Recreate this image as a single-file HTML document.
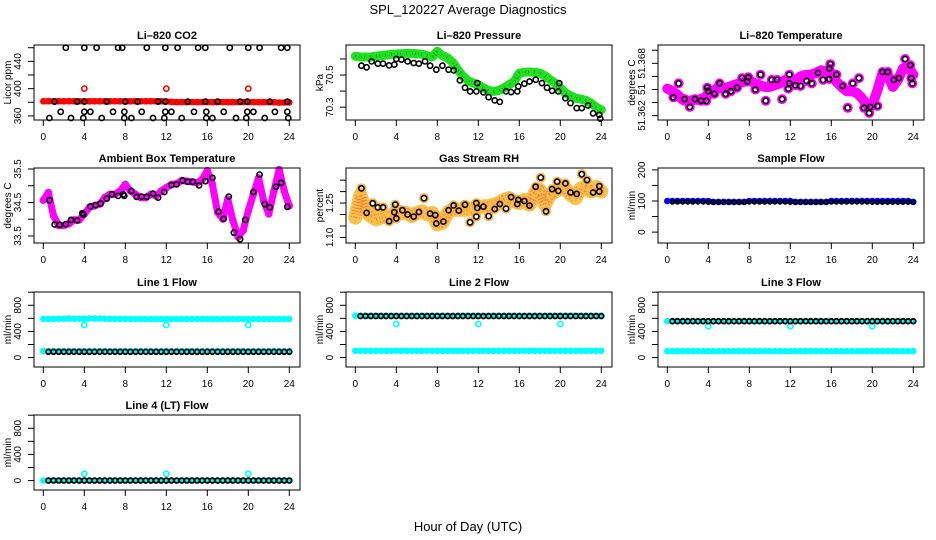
<!DOCTYPE html>
<html><head><meta charset="utf-8"><style>
html,body{margin:0;padding:0;background:#fff;}
svg{display:block;font-family:"Liberation Sans",sans-serif;}
</style></head><body>
<svg id="chart" width="936" height="540" viewBox="0 0 936 540" xmlns="http://www.w3.org/2000/svg">
<rect width="936" height="540" fill="#fff"/>
<text x="468" y="14" text-anchor="middle" font-size="13">SPL_120227  Average Diagnostics</text>
<text x="468" y="531" text-anchor="middle" font-size="13">Hour of Day (UTC)</text>
<g id="plots"></g>
</svg>
<script>
const hours=[0,0.5,1,1.5,2,2.5,3,3.5,4,4.5,5,5.5,6,6.5,7,7.5,8,8.5,9,9.5,10,10.5,11,11.5,12,12.5,13,13.5,14,14.5,15,15.5,16,16.5,17,17.5,18,18.5,19,19.5,20,20.5,21,21.5,22,22.5,23,23.5,24];
const xTicks=[0,4,8,12,16,20,24];
const spikeHours=[4,12,20];

// CO2
const co2Band=[381.5,381.6,381.5,381.4,381.5,381.6,381.5,381.4,381.5,381.5,381.4,381.5,381.5,381.4,381.5,381.5,381.4,381.4,381.5,381.4,381.4,381.5,381.4,381.4,381.3,380.5,380.2,380.2,380.3,380.2,380.2,380.3,380.2,380.3,380.2,380.3,380.2,380.2,380.3,380.2,380.2,380.2,380.1,380.2,380.1,380.0,379.5,379.6,379.8];
const co2Spikes=[400,400,400];
const co2BlackT=[2.2,4,5.2,7.3,7.7,10.1,11.9,13.1,15.1,15.8,18.2,20,21.1,23.2,23.8, 1.1,3.3,4,6.2,8,9.2,11.2,11.9,14.1,15.8,17,19.2,19.9,22.1,23.8, 1.7,4,4.6,6.8,7.9,9.6,11.9,12.5,14.7,15.9,17.6,19.9,20.5,22.6,23.8, 0.6,2.7,3.9,5.7,7.9,8.6,10.7,11.8,13.5,15.9,16.5,18.8,19.8,21.6,23.9];
const co2BlackV=[460,460,460,460,460,460,460,460,460,460,460,460,460,460,460, 381,381,381,381,381,381,381,381,381,381,381,381,381,381,381, 366,366,366,366,366,366,366,366,366,366,366,366,366,366,366, 357,357,357,357,357,357,357,357,357,357,357,357,357,357,357];

// Pressure
const presBand=[70.617,70.612,70.612,70.612,70.617,70.621,70.625,70.629,70.631,70.633,70.635,70.635,70.633,70.629,70.621,70.612,70.648,70.621,70.606,70.579,70.533,70.492,70.465,70.450,70.440,70.419,70.404,70.398,70.404,70.419,70.440,70.460,70.512,70.517,70.519,70.517,70.512,70.496,70.471,70.450,70.419,70.388,70.371,70.356,70.350,70.342,70.325,70.300,70.283];
const presBlackT=[0.6,1.1,1.6,2.2,2.7,3.3,3.8,4,4.5,5.1,5.7,6.2,6.8,7.3,7.9,8.5,9.1,9.6,10.2,10.7,11.2,11.8,11.9,12.5,13,13.6,14.1,14.7,15.2,15.8,15.9,16.5,17,17.6,18.2,18.7,19.2,19.8,19.9,20.5,21,21.6,22.1,22.7,23.2,23.8,23.9];
const presBlackV=[70.558,70.548,70.585,70.571,70.571,70.560,70.565,70.600,70.596,70.585,70.575,70.571,70.585,70.558,70.533,70.558,70.533,70.529,70.467,70.421,70.398,70.398,70.450,70.392,70.362,70.342,70.333,70.398,70.394,70.398,70.429,70.446,70.460,70.471,70.450,70.421,70.402,70.398,70.450,70.356,70.325,70.294,70.294,70.310,70.262,70.252,70.229];

// Li-820 temperature
const tempBand=[51.3651,51.3648,51.3644,51.3638,51.3636,51.3638,51.3638,51.3640,51.3644,51.3648,51.3653,51.3651,51.3653,51.3655,51.3657,51.3659,51.3661,51.3657,51.3655,51.3653,51.3653,51.3655,51.3657,51.3661,51.3659,51.3661,51.3665,51.3667,51.3667,51.3669,51.3672,51.3670,51.3669,51.3659,51.3653,51.3648,51.3648,51.3646,51.3640,51.3632,51.3632,51.3649,51.3669,51.3667,51.3653,51.3661,51.3674,51.3676,51.3667];
const tempBlackT=[0.6,1.1,1.7,2.2,2.7,3.3,3.8,3.9,4,4.6,5.1,5.7,6.2,6.8,7.3,7.8,7.9,8.6,9.1,9.6,10.2,10.7,11.2,11.8,11.9,11.9,12.5,13,13.6,14.1,14.7,15.2,15.8,15.8,15.9,16.5,17.1,17.6,18.1,18.7,19.2,19.7,19.8,20.5,21,21.5,22.1,22.6,23.2,23.7,23.8,23.9];
const tempBlackV=[51.3641,51.3657,51.3639,51.3630,51.3639,51.3637,51.3637,51.3652,51.3648,51.3645,51.3657,51.3645,51.3648,51.3652,51.3663,51.3659,51.3664,51.3650,51.3667,51.3637,51.3661,51.3661,51.3639,51.3651,51.3667,51.3657,51.3655,51.3654,51.3660,51.3657,51.3669,51.3661,51.3662,51.3674,51.3679,51.3667,51.3654,51.3629,51.3657,51.3663,51.3629,51.3623,51.3630,51.3631,51.3670,51.3670,51.3661,51.3663,51.3685,51.3678,51.3663,51.3657];

// Ambient box temperature
const ambBand=[34.568,34.794,34.108,33.814,33.814,33.863,33.980,33.980,34.157,34.353,34.402,34.451,34.647,34.745,34.745,34.843,35.039,34.843,34.745,34.647,34.647,34.745,34.696,34.843,34.941,35.039,35.058,35.156,35.137,35.117,35.088,35.186,35.450,35.039,34.206,34.010,34.598,33.961,33.471,33.667,34.255,34.745,35.235,34.549,34.157,34.843,35.480,34.843,34.402];
const ambBlackT=[0.6,1.1,1.6,2.2,2.7,3.3,3.8,3.9,4.6,5.1,5.6,6.2,6.7,7.3,7.8,7.9,8.6,9.1,9.6,10.1,10.7,11.2,11.8,12.5,13,13.6,14.1,14.6,15.2,15.8,16.5,17.1,17.6,18.1,18.6,19.2,19.7,20.5,21.1,21.6,22.1,22.7,23.2,23.8];
const ambBlackV=[34.568,33.843,33.833,33.853,33.980,33.961,34.176,34.137,34.382,34.421,34.470,34.617,34.745,34.696,34.745,34.696,34.843,34.666,34.676,34.666,34.764,34.647,34.813,35.019,35.039,35.156,35.117,35.117,35.009,35.137,35.235,34.225,34.010,34.676,33.598,33.402,33.980,34.813,35.333,34.451,34.353,34.970,35.088,34.372];

// Gas stream RH
const rhBand=[1.186,1.286,1.214,1.193,1.179,1.186,1.193,1.193,1.214,1.207,1.207,1.193,1.207,1.214,1.200,1.207,1.157,1.164,1.207,1.221,1.221,1.221,1.221,1.229,1.229,1.236,1.236,1.243,1.250,1.264,1.271,1.257,1.250,1.264,1.243,1.293,1.307,1.243,1.286,1.300,1.314,1.314,1.286,1.271,1.314,1.321,1.300,1.321,1.300];
const rhBlackT=[0.6,1.1,1.7,2.2,2.7,3.3,3.8,3.9,4,4.6,5.1,5.7,6.2,6.7,7.3,7.8,7.9,8.6,9.1,9.6,10.1,10.7,11.2,11.8,11.8,11.9,12.5,13,13.6,14.1,14.7,15.2,15.8,15.9,16.5,17,17.6,18.1,18.6,19.2,19.7,19.8,20.5,21,21.6,22.1,22.6,23.2,23.8,23.8];
const rhBlackV=[1.314,1.207,1.249,1.231,1.231,1.171,1.210,1.243,1.183,1.219,1.200,1.191,1.211,1.271,1.204,1.197,1.161,1.169,1.219,1.240,1.217,1.243,1.166,1.191,1.250,1.229,1.234,1.193,1.224,1.246,1.226,1.276,1.246,1.264,1.259,1.239,1.321,1.361,1.214,1.311,1.343,1.303,1.336,1.296,1.290,1.376,1.350,1.296,1.300,1.324];

// Flows
const sampleBlue=[100,100,100,100,100,100,100,100,100,97,97,97,97,97,97,97,100,100,100,100,100,100,100,100,100,97,97,97,97,97,97,97,100,100,100,100,100,100,100,100,100,100,100,100,100,100,100,100,97];
const sampleBlack=[97,97,97,97,97,97,97,97,96,96,96,96,96,96,96,96,97,97,97,97,97,97,97,97,96,96,96,96,96,96,96,96,97,97,97,97,97,97,97,97,96,96,96,96,96,96,96,96,96];
const line1Upper=[592,590,592,593,594,596,595,595,594,596,598,596,594,592,592,590,592,590,590,590,590,590,590,590,590,590,590,590,590,590,590,590,590,590,590,590,590,590,590,590,590,590,590,590,590,590,590,590,590];
const line1Lower=[99,99,99,99,99,99,99,99,99,99,99,99,99,99,99,99,99,99,99,99,99,99,99,99,99,99,99,99,99,99,99,99,99,99,99,99,99,99,99,99,99,99,99,99,99,99,99,99,99];
const line1Black=[88,88,88,88,88,88,88,88,88,88,88,88,88,88,88,88,88,88,88,88,88,88,88,88,88,88,88,88,88,88,88,88,88,88,88,88,88,88,88,88,88,88,88,88,88,88,88,88,88];
const line1Spikes=[499,499,499];
const line2Upper=[640,640,640,640,640,640,640,640,640,640,640,640,640,640,640,640,640,640,640,640,640,640,640,640,640,640,640,640,640,640,640,640,640,640,640,640,640,640,640,640,640,640,640,640,640,640,640,640,640];
const line2Lower=[104,104,104,104,104,104,104,104,104,104,104,104,104,104,104,104,104,104,104,104,104,104,104,104,104,104,104,104,104,104,104,104,104,104,104,104,104,104,104,104,104,104,104,104,104,104,104,104,104];
const line2Black=[634,634,634,634,634,634,634,634,634,634,634,634,634,634,634,634,634,634,634,634,634,634,634,634,634,634,634,634,634,634,634,634,634,634,634,634,634,634,634,634,634,634,634,634,634,634,634,634,634];
const line2Spikes=[514,514,514];
const line3Upper=[556,556,556,556,556,556,556,556,556,556,556,556,556,556,556,556,556,556,556,556,556,556,556,556,556,556,556,556,556,556,556,556,556,556,556,556,556,556,556,556,556,556,556,556,556,556,556,556,556];
const line3Lower=[98,98,98,98,98,98,98,98,98,98,98,98,98,98,98,98,98,98,98,98,98,98,98,98,98,98,98,98,98,98,98,98,98,98,98,98,98,98,98,98,98,98,98,98,98,98,98,98,98];
const line3Black=[556,556,556,556,556,556,556,556,556,556,556,556,556,556,556,556,556,556,556,556,556,556,556,556,556,556,556,556,556,556,556,556,556,556,556,556,556,556,556,556,556,556,556,556,556,556,556,556,556];
const line3Spikes=[480,480,480];
const line4Cyan=[2,2,2,2,2,2,2,2,2,2,2,2,2,2,2,2,2,2,2,2,2,2,2,2,2,2,2,2,2,2,2,2,2,2,2,2,2,2,2,2,2,2,2,2,2,2,2,2,2];
const line4Black=[2,2,2,2,2,2,2,2,2,2,2,2,2,2,2,2,2,2,2,2,2,2,2,2,2,2,2,2,2,2,2,2,2,2,2,2,2,2,2,2,2,2,2,2,2,2,2,2,2];
const line4Spikes=[103,103,103];

const NS='http://www.w3.org/2000/svg';
const root=document.getElementById('plots');
function mk(tag,attrs,parent){const e=document.createElementNS(NS,tag);for(const k in attrs)e.setAttribute(k,attrs[k]);(parent||root).appendChild(e);return e;}

const BOXW=266,BOXH=75;
const rowTops=[45,168,292,415];
const flowTicks=[0,200,400,600,800,1000];
const flowLabels=['0','','400','','800',''];

function panel(cfg){
  const left=34+cfg.col*312, top=rowTops[cfg.row];
  const g=mk('g',{});
  
  
  const xs=t=>left+9.3+t*10.25;
  const ys=v=>top+(cfg.ymax-v)/(cfg.ymax-cfg.ymin)*BOXH;
  const tt=mk('text',{x:left+BOXW/2,y:top-6,'text-anchor':'middle','font-size':11,'font-weight':'bold'},g);
  tt.textContent=cfg.title;
  
  
  const layers=mk('g',{},g);
  
  
  cfg.layers.forEach(L=>{
    const lg=mk('g',{},layers);
    
    
    if(L.opacity) lg.setAttribute('opacity',L.opacity);
    if(L.band){
      const pts=L.t.map((t,i)=>xs(t).toFixed(1)+','+ys(L.v[i]).toFixed(1)).join(' ');
      const pl=mk('polyline',{points:pts,fill:'none',stroke:L.color,'stroke-width':L.band,'stroke-linejoin':'round','stroke-linecap':'round'},lg);
      
      
      if(L.dots){
        const pl2=mk('polyline',{points:pts,fill:'none',stroke:L.dots,'stroke-width':Math.max(1,L.band-4),'stroke-dasharray':'1 2','stroke-linejoin':'round','opacity':0.6},lg);
        
        
      }
    }
    if(L.circles!==false){
      L.t.forEach((t,i)=>{
        const c=mk('circle',{cx:xs(t).toFixed(1),cy:ys(L.v[i]).toFixed(1),r:L.r||2.6,fill:'none',stroke:L.color,'stroke-width':L.sw||1.6},lg);
        
        
      });
    }
  });
  const b=mk('rect',{x:left,y:top,width:BOXW,height:BOXH,fill:'none',stroke:'#000','stroke-width':1},g);
  
  
  const xa=mk('g',{},g);
  
  
  mk('line',{x1:xs(0),x2:xs(24),y1:top+BOXH,y2:top+BOXH,stroke:'#000'},xa);
  xTicks.forEach(t=>{
    mk('line',{x1:xs(t),x2:xs(t),y1:top+BOXH,y2:top+BOXH+6,stroke:'#000'},xa);
    const tx=mk('text',{x:xs(t),y:top+BOXH+20,'text-anchor':'middle','font-size':10},xa);
    tx.textContent=String(t);
    
    
  });
  const ya=mk('g',{},g);
  
  
  const tk=cfg.ticks;
  mk('line',{x1:left,x2:left,y1:ys(tk[0]),y2:ys(tk[tk.length-1]),stroke:'#000'},ya);
  tk.forEach((v,i)=>{
    const y=ys(v);
    mk('line',{x1:left-6,x2:left,y1:y,y2:y,stroke:'#000'},ya);
    if(cfg.labels[i]){
      const lx=left-13;
      const tx=mk('text',{x:lx,y:y,'text-anchor':'middle','font-size':10,transform:`rotate(-90 ${lx} ${y})`},ya);
      tx.textContent=cfg.labels[i];
      
      
    }
  });
  const yx=left-23, yy=top+BOXH/2;
  const yt=mk('text',{x:yx,y:yy,'text-anchor':'middle','font-size':10,transform:`rotate(-90 ${yx} ${yy})`},g);
  yt.textContent=cfg.ylab;
  
  
}

const h1=hours.slice(1);
panel({name:'co2-panel',col:0,row:0,title:'Li–820 CO2',ylab:'Licor ppm',ymin:354,ymax:464,
  ticks:[360,380,400,420,440,460],labels:['360','','400','','440',''],
  layers:[
    {name:'co2-red-band',t:hours,v:co2Band,color:'#ff0000',band:6,r:2.5},
    {name:'co2-red-spikes',t:spikeHours,v:co2Spikes,color:'#ff0000'},
    {name:'co2-black-points',t:co2BlackT,v:co2BlackV,color:'#000'}]});
panel({name:'pressure-panel',col:1,row:0,title:'Li–820 Pressure',ylab:'kPa',ymin:70.22,ymax:70.687,
  ticks:[70.3,70.4,70.5,70.6],labels:['70.3','','70.5',''],
  layers:[
    {name:'pressure-green-band',t:hours,v:presBand,color:'#22e022',band:9,dots:'#007700',r:2.5},
    {name:'pressure-black-points',t:presBlackT,v:presBlackV,color:'#000'}]});
panel({name:'li820-temperature-panel',col:2,row:0,title:'Li–820 Temperature',ylab:'degrees C',ymin:51.3615,ymax:51.3701,
  ticks:[51.362,51.3635,51.365,51.3665,51.368,51.3695],labels:['51.362','','51','','51.368',''],
  layers:[
    {name:'temperature-magenta-band',t:hours,v:tempBand,color:'#ff00ff',band:10,r:3,sw:1.5},
    {name:'temperature-magenta-points',t:tempBlackT,v:tempBlackV,color:'#ff00ff',r:4,sw:2},
    {name:'temperature-black-points',t:tempBlackT,v:tempBlackV,color:'#000'}]});
panel({name:'ambient-temperature-panel',col:0,row:1,title:'Ambient Box Temperature',ylab:'degrees C',ymin:33.29,ymax:35.53,
  ticks:[33.5,34,34.5,35,35.5],labels:['33.5','','34.5','','35.5'],
  layers:[
    {name:'ambient-magenta-band',t:hours,v:ambBand,color:'#ff00ff',band:7,r:3},
    {name:'ambient-black-points',t:ambBlackT,v:ambBlackV,color:'#000'}]});
panel({name:'gas-rh-panel',col:1,row:1,title:'Gas Stream RH',ylab:'percent',ymin:1.0757,ymax:1.403,
  ticks:[1.10,1.15,1.20,1.25,1.30,1.35],labels:['1.10','','','1.25','',''],
  layers:[
    {name:'rh-orange-band',t:hours,v:rhBand,color:'#fbb830',band:14,dots:'#ff3000',r:3,opacity:0.85},
    {name:'rh-orange-points',t:rhBlackT,v:rhBlackV,color:'#fbb040',r:4,sw:2},
    {name:'rh-black-points',t:rhBlackT,v:rhBlackV,color:'#000'}]});
panel({name:'sample-flow-panel',col:2,row:1,title:'Sample Flow',ylab:'ml/min',ymin:-35,ymax:206,
  ticks:[0,50,100,150,200],labels:['0','','100','','200'],
  layers:[
    {name:'sample-blue-band',t:hours,v:sampleBlue,color:'#0000ff',band:5,r:2.5},
    {name:'sample-black-points',t:h1,v:sampleBlack.slice(1),color:'#000',r:2,sw:1.6}]});
panel({name:'line1-flow-panel',col:0,row:2,title:'Line 1 Flow',ylab:'ml/min',ymin:-144,ymax:1003,ticks:flowTicks,labels:flowLabels,
  layers:[
    {name:'line1-cyan-upper',t:hours,v:line1Upper,color:'#00ffff',band:5,r:2.5},
    {name:'line1-cyan-lower',t:hours,v:line1Lower,color:'#00ffff',band:4,r:2.5},
    {name:'line1-cyan-spikes',t:spikeHours,v:line1Spikes,color:'#00ffff'},
    {name:'line1-black-points',t:h1,v:line1Black.slice(1),color:'#000',r:2.4,sw:1.8}]});
panel({name:'line2-flow-panel',col:1,row:2,title:'Line 2 Flow',ylab:'ml/min',ymin:-144,ymax:1003,ticks:flowTicks,labels:flowLabels,
  layers:[
    {name:'line2-cyan-upper',t:hours,v:line2Upper,color:'#00ffff',band:5,r:2.5},
    {name:'line2-cyan-lower',t:hours,v:line2Lower,color:'#00ffff',band:5,r:2.5},
    {name:'line2-cyan-spikes',t:spikeHours,v:line2Spikes,color:'#00ffff'},
    {name:'line2-black-points',t:h1,v:line2Black.slice(1),color:'#000',r:2.4,sw:1.8}]});
panel({name:'line3-flow-panel',col:2,row:2,title:'Line 3 Flow',ylab:'ml/min',ymin:-144,ymax:1003,ticks:flowTicks,labels:flowLabels,
  layers:[
    {name:'line3-cyan-upper',t:hours,v:line3Upper,color:'#00ffff',band:5,r:2.5},
    {name:'line3-cyan-lower',t:hours,v:line3Lower,color:'#00ffff',band:5,r:2.5},
    {name:'line3-cyan-spikes',t:spikeHours,v:line3Spikes,color:'#00ffff'},
    {name:'line3-black-points',t:h1,v:line3Black.slice(1),color:'#000',r:2.4,sw:1.8}]});
panel({name:'line4-flow-panel',col:0,row:3,title:'Line 4 (LT) Flow',ylab:'ml/min',ymin:-144,ymax:1003,ticks:flowTicks,labels:flowLabels,
  layers:[
    {name:'line4-cyan-band',t:hours,v:line4Cyan,color:'#00ffff',band:5,r:2.5},
    {name:'line4-cyan-spikes',t:spikeHours,v:line4Spikes,color:'#00ffff'},
    {name:'line4-black-points',t:h1,v:line4Black.slice(1),color:'#000',r:2.4,sw:1.8}]});
</script>
</body></html>
